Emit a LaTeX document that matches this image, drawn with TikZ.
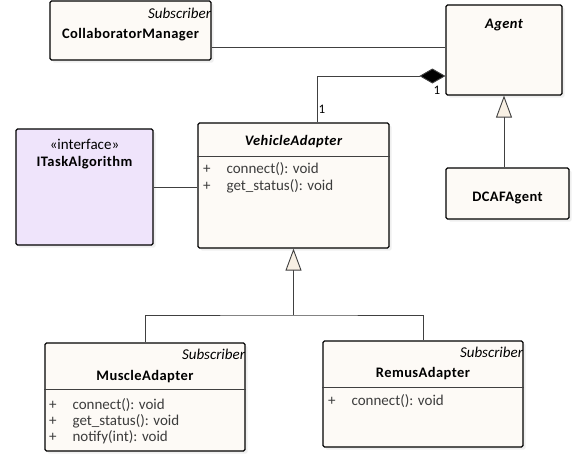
\documentclass[tikz,border=0pt]{standalone}
\usepackage{fontspec}
\setmainfont{Carlito}
\usetikzlibrary{arrows.meta, shadows}
\definecolor{classfill}{RGB}{253,250,246}
\definecolor{ifacefill}{RGB}{239,228,251}
\definecolor{trifill}{RGB}{248,240,228}
\definecolor{linegray}{RGB}{64,64,64}
\definecolor{textgray}{RGB}{60,60,60}
\tikzstyle{umlclass} = [rectangle, rounded corners=1.5pt, draw=black, line width=1.2pt, fill=classfill, inner sep=0pt, drop shadow={shadow xshift=2.5pt, shadow yshift=-2.5pt, fill=black!12}]
\tikzstyle{iface} = [umlclass, fill=ifacefill]
\tikzstyle{classname} = [font=\bfseries\fontsize{14.5}{16}\selectfont\addfontfeatures{LetterSpace=3}, inner sep=0pt]
\tikzstyle{abstractname} = [classname, font=\bfseries\itshape\fontsize{14.5}{16}\selectfont\addfontfeatures{LetterSpace=3}]
\tikzstyle{stereo} = [font=\itshape\fontsize{15}{16}\selectfont, anchor=east, inner sep=0.5pt]
\tikzstyle{member} = [font=\fontsize{15}{16}\selectfont, text=textgray, anchor=west, inner sep=0pt]
\tikzstyle{mult} = [font=\fontsize{13}{15}\selectfont, inner sep=0pt]
\tikzstyle{sep} = [draw=black!75, line width=0.8pt]
\tikzstyle{line} = [draw=linegray, line width=0.9pt]
\tikzstyle{inherit} = [line, -{Triangle[width=16pt, length=22pt, fill=trifill]}]
\tikzstyle{compose} = [line, -{Diamond[width=15pt, length=26pt, fill=black]}]

\begin{document}
\begin{tikzpicture}[x=1pt, y=-1pt]
\useasboundingbox (0,0) rectangle (586,453);

\node (cm) [umlclass, minimum width=161pt, minimum height=59pt] at (130.5,30.5) {};
\node (agent) [umlclass, minimum width=116pt, minimum height=90pt] at (504,50) {};
\node (dcaf) [umlclass, minimum width=123pt, minimum height=51pt] at (507.5,193.5) {};
\node (itask) [iface, minimum width=137pt, minimum height=116pt] at (84.5,187) {};
\node (vehicle) [umlclass, minimum width=191pt, minimum height=125pt] at (293.5,185.5) {};
\node (muscle) [umlclass, minimum width=200pt, minimum height=108pt] at (145,397) {};
\node (remus) [umlclass, minimum width=200pt, minimum height=106pt] at (423,394) {};

\node (cmstereo) [stereo] at ([yshift=-13pt]cm.north east) {Subscriber};
\node (cmname) [classname] at ([yshift=-34pt]cm.north) {CollaboratorManager};

\node (agentname) [abstractname] at ([yshift=-21pt]agent.north) {Agent};
\node (dcafname) [classname] at ([yshift=-4.5pt]dcaf.center) {DCAFAgent};

\node (itaskstereo) [font=\fontsize{15}{16}\selectfont, inner sep=0pt] at ([yshift=-16pt]itask.north) {«interface»};
\node (itaskname) [classname] at ([yshift=-34pt]itask.north) {ITaskAlgorithm};

\node (vehiclename) [abstractname] at ([yshift=-19pt]vehicle.north) {VehicleAdapter};
\draw [sep] ([yshift=-34pt]vehicle.north west) -- ([yshift=-34pt]vehicle.north east);
\node (vehicleplusa) [member] at ([xshift=5.5pt, yshift=-47pt]vehicle.north west) {+};
\node (vehicleopa) [member] at ([xshift=29pt, yshift=-47pt]vehicle.north west) {connect(): void};
\node (vehicleplusb) [member] at ([xshift=5.5pt, yshift=-64pt]vehicle.north west) {+};
\node (vehicleopb) [member] at ([xshift=29pt, yshift=-64pt]vehicle.north west) {get\_status(): void};

\node (musclestereo) [stereo] at ([yshift=-12pt]muscle.north east) {Subscriber};
\node (musclename) [classname] at ([yshift=-34pt]muscle.north) {MuscleAdapter};
\draw [sep] ([yshift=-47pt]muscle.north west) -- ([yshift=-47pt]muscle.north east);
\node (muscleplusa) [member] at ([xshift=4.5pt, yshift=-63pt]muscle.north west) {+};
\node (muscleopa) [member] at ([xshift=28pt, yshift=-63pt]muscle.north west) {connect(): void};
\node (muscleplusb) [member] at ([xshift=4.5pt, yshift=-79pt]muscle.north west) {+};
\node (muscleopb) [member] at ([xshift=28pt, yshift=-79pt]muscle.north west) {get\_status(): void};
\node (muscleplusc) [member] at ([xshift=4.5pt, yshift=-95pt]muscle.north west) {+};
\node (muscleopc) [member] at ([xshift=28pt, yshift=-95pt]muscle.north west) {notify(int): void};

\node (remusstereo) [stereo] at ([yshift=-12pt]remus.north east) {Subscriber};
\node (remusname) [classname] at ([yshift=-33pt]remus.north) {RemusAdapter};
\draw [sep] ([yshift=-47pt]remus.north west) -- ([yshift=-47pt]remus.north east);
\node (remusplusa) [member] at ([xshift=5.5pt, yshift=-61pt]remus.north west) {+};
\node (remusopa) [member] at ([xshift=29pt, yshift=-61pt]remus.north west) {connect(): void};

\coordinate (genjoint) at (293.5,315);

\draw [line] ([yshift=-16.5pt]cm.east) -- ([yshift=-16.5pt]cm.east -| agent.west);
\draw [line] (itask.east) -- (itask.east -| vehicle.west);
\draw [compose] ([xshift=23.5pt]vehicle.north) |- ([yshift=-26pt]agent.west);
\node (multvehicle) [mult] at (322,109) {1};
\node (multagent) [mult] at (437,90) {1};
\draw [inherit] (agent.south |- dcaf.north) -- (agent.south);
\draw [line] (muscle.north) |- (genjoint) -| (remus.north);
\draw [inherit] (genjoint) -- (vehicle.south);

\end{tikzpicture}
\end{document}
